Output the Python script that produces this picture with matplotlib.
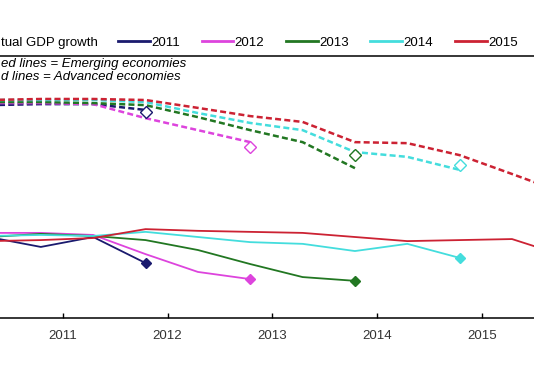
import matplotlib
matplotlib.use('Agg')
import matplotlib.pyplot as plt
from matplotlib.lines import Line2D

plt.rcParams['font.family'] = ['Liberation Sans', 'DejaVu Sans']

# forecast vintages (April / October of each year)
vintages = [2010.29, 2010.79, 2011.29, 2011.79, 2012.29, 2012.79,
            2013.29, 2013.79, 2014.29, 2014.79, 2015.29, 2015.79]
years = [2011, 2012, 2013, 2014, 2015]
colors = ["#1a1a6e", "#dd44dd", "#227722", "#44dddd", "#cc2233"]

# advanced economies forecasts (solid lines), % growth
ae_2011 = [2.50, 2.21, 2.50, 1.74]
ae_2012 = [2.62, 2.62, 2.56, 2.00, 1.48, 1.27]
ae_2013 = [2.50, 2.59, 2.53, 2.41, 2.12, 1.71, 1.33, 1.22]
ae_2014 = [2.53, 2.56, 2.53, 2.65, 2.50, 2.35, 2.30, 2.09, 2.30, 1.89]
ae_2015 = [2.38, 2.41, 2.47, 2.73, 2.68, 2.65, 2.62, 2.50, 2.38, 2.41, 2.44, 1.95]
ae_actual = [1.74, 1.27, 1.22, 1.89]

# emerging economies forecasts (dashed lines), % growth
em_2011 = [6.35, 6.38, 6.38, 6.21]
em_2012 = [6.41, 6.41, 6.38, 5.97, 5.62, 5.27]
em_2013 = [6.44, 6.44, 6.41, 6.35, 6.00, 5.62, 5.27, 4.51]
em_2014 = [6.50, 6.50, 6.50, 6.44, 6.12, 5.83, 5.62, 4.98, 4.84, 4.46]
em_2015 = [6.50, 6.53, 6.53, 6.50, 6.27, 6.03, 5.86, 5.27, 5.24, 4.89, 4.34, 3.78]
em_actual = [6.15, 5.13, 4.89, 4.60]

# date of the actual outcome marker (October of the year)
actual_dates = [2011.79, 2012.79, 2013.79, 2014.79]

# texts as visible in the (cropped) source
legend_lead = "tual GDP growth"
note_em = "ed lines = Emerging economies"
note_ae = "d lines = Advanced economies"

ae_series = [ae_2011, ae_2012, ae_2013, ae_2014, ae_2015]
em_series = [em_2011, em_2012, em_2013, em_2014, em_2015]

fig = plt.figure(figsize=(5.34, 3.86), dpi=100)
ax = fig.add_axes([0, 68 / 386, 1, 262 / 386])

for yr, col, ae, em in zip(years, colors, ae_series, em_series):
    ax.plot(vintages[:len(em)], em, color=col, lw=1.8, dashes=(2.4, 1.3))
    ax.plot(vintages[:len(ae)], ae, color=col, lw=1.3)

for i, (d, a, e) in enumerate(zip(actual_dates, ae_actual, em_actual)):
    ax.plot(d, a, marker="D", ms=5, color=colors[i], zorder=5)
    ax.plot(d, e, marker="D", ms=6, mfc="white", mec=colors[i], mew=1.0, zorder=5)

ax.set_xlim(2010.40, 2015.50)
ax.set_ylim(0.135, 7.785)
ax.set_xticks(years)
ax.set_xticklabels([str(y) for y in years], fontsize=9.5, color="#333333")
ax.tick_params(axis="x", direction="in", length=3.5, width=1, pad=8.5)
ax.set_yticks([])
ax.spines["left"].set_visible(False)
ax.spines["right"].set_visible(False)
ax.spines["top"].set_linewidth(1.1)
ax.spines["bottom"].set_linewidth(1.1)

# legend row
handles = [Line2D([], [], color=col, lw=2) for col in colors]
labels = [str(yr) for yr in years]
fig.legend(handles, labels, ncol=5, loc="center left",
           bbox_to_anchor=(118 / 534, 1 - 43 / 386), frameon=False,
           fontsize=9.5, handlelength=2.42, handletextpad=0.1,
           columnspacing=1.63, borderpad=0, borderaxespad=0)
fig.text(1 / 534, 1 - 43 / 386, legend_lead, fontsize=9.5, va="center", ha="left")

fig.text(1 / 534, 1 - 64 / 386, note_em,
         fontsize=9.5, style="italic", va="center", ha="left")
fig.text(1 / 534, 1 - 77 / 386, note_ae,
         fontsize=9.5, style="italic", va="center", ha="left")

fig.savefig("out.png", dpi=100)
